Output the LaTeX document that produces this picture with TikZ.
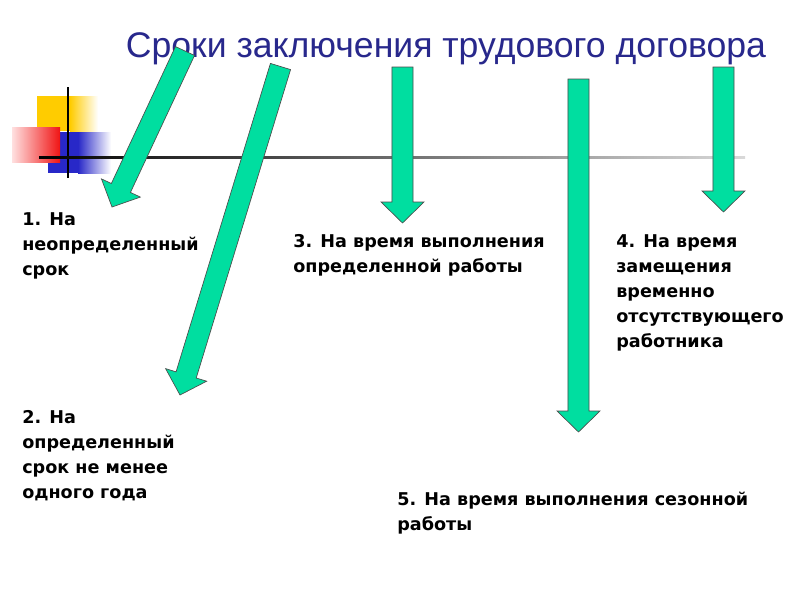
\documentclass[tikz,border=0pt]{standalone}
\usepackage{fontspec}
\usetikzlibrary{calc}
\newfontfamily\titlef{Liberation Sans}
\newfontfamily\bodyf{DejaVu Sans}
\definecolor{navy}{RGB}{40,40,140}
\definecolor{mint}{RGB}{0,222,160}
\definecolor{gold}{RGB}{255,204,0}
\definecolor{sqblue}{RGB}{40,40,200}
\definecolor{sqred}{RGB}{240,20,20}
\def\sw{7.9pt}\def\hw{16.1pt}\def\hl{15.75pt}
\newcommand\fatarrow[2]{%
  \coordinate (#1h) at ($(#2)!\hl!(#1)$);
  \draw[arr] ($(#1)!\sw!90:(#2)$) -- ($(#1h)!\sw!90:(#2)$) -- ($(#1h)!\hw!90:(#2)$)
    -- (#2) -- ($(#1h)!\hw!-90:(#2)$) -- ($(#1h)!\sw!-90:(#2)$) -- ($(#1)!\sw!-90:(#2)$) -- cycle;}
\begin{document}
\begin{tikzpicture}[x=0.75pt,y=-0.75pt,
  arr/.style={fill=mint,draw=black!70,line width=0.5pt,line join=miter},
  lbl/.style={anchor=north west,inner sep=0pt,align=left,font=\bodyf\bfseries\fontsize{13.2pt}{18.75pt}\selectfont}]
\useasboundingbox[fill=white] (0,0) rectangle (800,600);
% decorative squares
\fill[gold] (37,96) rectangle (70,131);
\shade[left color=gold,right color=white] (70,96) rectangle (98,131);
\fill[sqblue] (48,132) rectangle (78,173);
\shade[left color=sqblue,right color=white] (78,132) rectangle (111,173);
\shade[left color=red!12,right color=sqred] (12,127) rectangle (60,162);
% lines
\draw[line width=1.5pt] (68,87) -- (68,178);
\shade[left color=black,middle color=black!70,right color=black!15] (39,156) rectangle (745,158.5);
% title
\node[anchor=base,inner sep=0pt,text=navy,font=\titlef\fontsize{26.7pt}{30pt}\selectfont] (title) at (446,57) {Сроки заключения трудового договора};
% arrows
\coordinate (a1) at (185,51);   \coordinate (b1) at (112,207);
\coordinate (a2) at (280.5,66.5); \coordinate (b2) at (180,395);
\coordinate (a3) at (402.5,67); \coordinate (b3) at (402.5,223);
\coordinate (a5) at (578.5,79); \coordinate (b5) at (578.5,432);
\coordinate (a4) at (723.5,67); \coordinate (b4) at (723.5,212);
\fatarrow{a1}{b1}
\fatarrow{a2}{b2}
\fatarrow{a3}{b3}
\fatarrow{a5}{b5}
\fatarrow{a4}{b4}
% labels
\node[lbl] (t1) at (22,212) {1. На\\неопределенный\\срок};
\node[lbl] (t2) at (22,410) {2. На\\определенный\\срок не менее\\одного года};
\node[lbl] (t3) at (293,234) {3. На время выполнения\\определенной работы};
\node[lbl] (t4) at (616,234) {4. На время\\замещения\\временно\\отсутствующего\\работника};
\node[lbl] (t5) at (397,492) {5. На время выполнения сезонной\\работы};
\end{tikzpicture}
\end{document}
